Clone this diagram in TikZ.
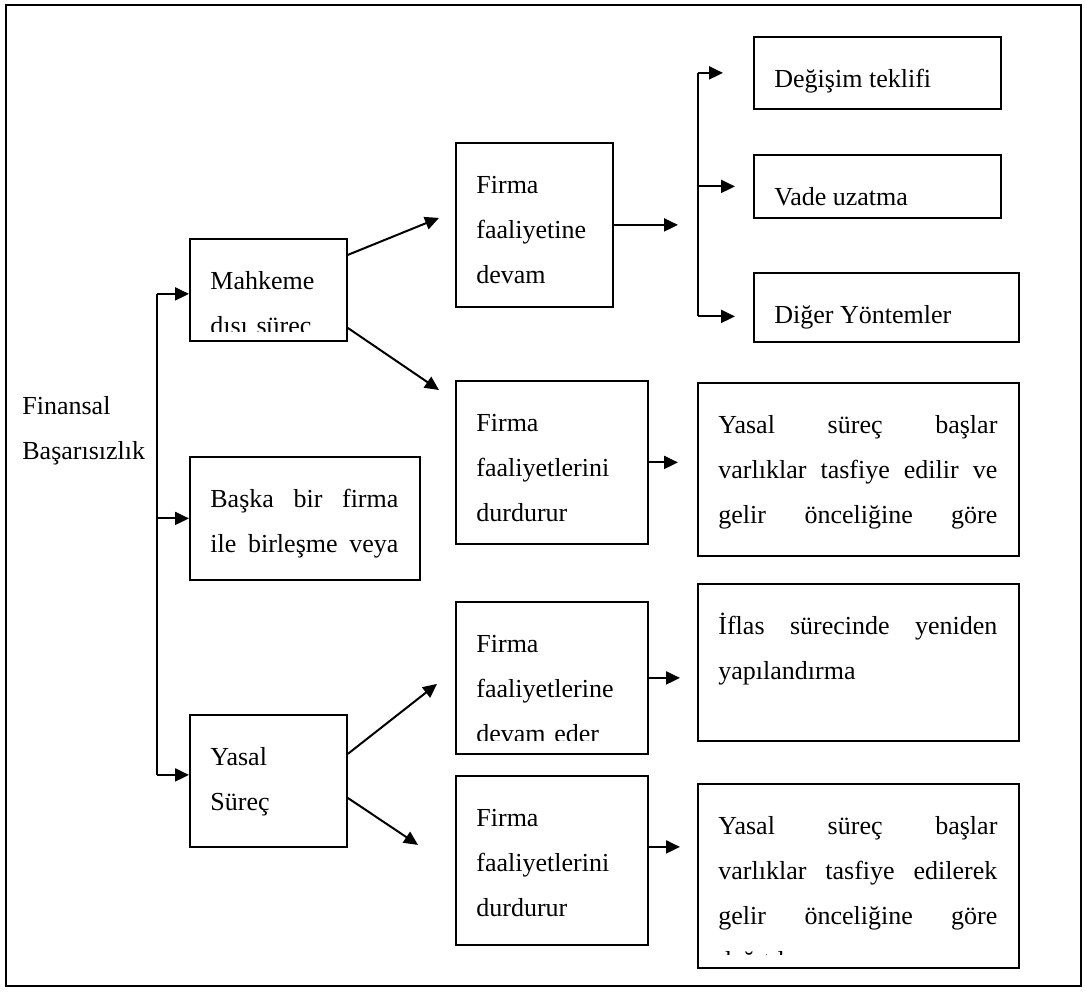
\documentclass[tikz,border=0pt]{standalone}
\usepackage{fontspec}
\setmainfont{Liberation Serif}
\usetikzlibrary{arrows.meta, positioning}

\begin{document}
\begin{tikzpicture}[x=0.5pt, y=-0.5pt]
        \tikzstyle{box} = [rectangle, draw=black, line width=0.9pt, anchor=north west, inner sep=0pt];
        \tikzstyle{boxtext} = [anchor=north west, inner sep=0pt, align=left, font=\fontsize{13pt}{22.5pt}\selectfont];
        \tikzstyle{arr} = [line width=1pt, -{Triangle[length=7pt, width=6.5pt]}];

        \useasboundingbox (0,0) rectangle (1085,992);
        \draw[line width=1.2pt] (6,5) rectangle (1081,986);

        \node[boxtext] (finansal) at (22,383) {\strut Finansal\\Başarısızlık};

        \node[box, minimum width=78.5pt, minimum height=51pt] (mahkeme) at (189,238) {};
        \node[box, minimum width=115pt, minimum height=61.5pt] (baska) at (189,456) {};
        \node[box, minimum width=78.5pt, minimum height=66pt] (yasal) at (189,714) {};

        \node[box, minimum width=78.5pt, minimum height=82pt] (devam) at (455,142) {};
        \node[box, minimum width=96pt, minimum height=81.5pt] (durdur) at (455,380) {};
        \node[box, minimum width=96pt, minimum height=76pt] (devameder) at (455,601) {};
        \node[box, minimum width=96pt, minimum height=84.5pt] (durdurtwo) at (455,775) {};

        \node[box, minimum width=123.5pt, minimum height=36pt] (degisim) at (753,36) {};
        \node[box, minimum width=123.5pt, minimum height=31.5pt] (vade) at (753,154) {};
        \node[box, minimum width=132.5pt, minimum height=34.5pt] (diger) at (753,272) {};
        \node[box, minimum width=160.5pt, minimum height=86.5pt] (tasfiye) at (697,382) {};
        \node[box, minimum width=160.5pt, minimum height=78.5pt] (iflas) at (697,583) {};
        \node[box, minimum width=160.5pt, minimum height=92pt] (tasfiyetwo) at (697,783) {};

        \begin{scope}
            \clip (mahkeme.north west) rectangle ([yshift=5pt]mahkeme.south east);
            \node[boxtext, text width=57.5pt] (mahkemetext) at ([xshift=10.5pt, yshift=-10pt]mahkeme.north west) {\strut Mahkeme\\dışı süreç};
        \end{scope}
        \begin{scope}
            \clip (baska.north west) rectangle ([yshift=5pt]baska.south east);
            \node[boxtext, text width=94pt] (baskatext) at ([xshift=10.5pt, yshift=-10pt]baska.north west) {\strut Başka\hfill bir\hfill firma\\ile\hfill birleşme\hfill veya};
        \end{scope}
        \node[boxtext, text width=57.5pt] (yasaltext) at ([xshift=10.5pt, yshift=-10pt]yasal.north west) {\strut Yasal\\Süreç};

        \node[boxtext, text width=57.5pt] (devamtext) at ([xshift=10.5pt, yshift=-10pt]devam.north west) {\strut Firma\\faaliyetine\\devam};
        \node[boxtext, text width=75pt] (durdurtext) at ([xshift=10.5pt, yshift=-10pt]durdur.north west) {\strut Firma\\faaliyetlerini\\durdurur};
        \begin{scope}
            \clip (devameder.north west) rectangle ([yshift=7pt]devameder.south east);
            \node[boxtext, text width=75pt] (devamedertext) at ([xshift=10.5pt, yshift=-10pt]devameder.north west) {\strut Firma\\faaliyetlerine\\devam eder};
        \end{scope}
        \node[boxtext, text width=75pt] (durdurtwotext) at ([xshift=10.5pt, yshift=-10pt]durdurtwo.north west) {\strut Firma\\faaliyetlerini\\durdurur};

        \node[boxtext] (degisimtext) at ([xshift=10.5pt, yshift=-10pt]degisim.north west) {\strut Değişim teklifi};
        \node[boxtext] (vadetext) at ([xshift=10.5pt, yshift=-10pt]vade.north west) {\strut Vade uzatma};
        \node[boxtext] (digertext) at ([xshift=10.5pt, yshift=-10pt]diger.north west) {\strut Diğer Yöntemler};
        \node[boxtext, text width=139.5pt] (tasfiyetext) at ([xshift=10.5pt, yshift=-10pt]tasfiye.north west) {\strut Yasal\hfill süreç\hfill başlar\\varlıklar\hfill tasfiye\hfill edilir\hfill ve\\gelir\hfill önceliğine\hfill göre};
        \node[boxtext, text width=139.5pt] (iflastext) at ([xshift=10.5pt, yshift=-10pt]iflas.north west) {\strut İflas\hfill sürecinde\hfill yeniden\\yapılandırma};
        \begin{scope}
            \clip (tasfiyetwo.north west) rectangle ([yshift=7pt]tasfiyetwo.south east);
            \node[boxtext, text width=139.5pt] (tasfiyetwotext) at ([xshift=10.5pt, yshift=-10pt]tasfiyetwo.north west) {\strut Yasal\hfill süreç\hfill başlar\\varlıklar\hfill tasfiye\hfill edilerek\\gelir\hfill önceliğine\hfill göre\\dağıtılır};
        \end{scope}

        \coordinate (trunk) at (157,293);
        \coordinate (dal) at (698,73);
        \coordinate (mahkemein) at ([yshift=-2pt]mahkeme.west);
        \coordinate (yasalin) at ([yshift=3pt]yasal.west);
        \coordinate (digerin) at ([yshift=-4.5pt]diger.west);

        \draw[line width=1pt] (trunk |- mahkemein) -- (trunk |- yasalin);
        \draw[arr] (trunk |- mahkemein) -- (mahkemein);
        \draw[arr] (trunk |- baska.west) -- (baska.west);
        \draw[arr] (trunk |- yasalin) -- (yasalin);

        \draw[arr] ([yshift=17.5pt]mahkeme.east) -- ([xshift=-8pt, yshift=3.5pt]devam.west);
        \draw[arr] ([yshift=-19pt]mahkeme.east) -- ([xshift=-8pt, yshift=-5pt]durdur.north west);
        \draw[arr] ([yshift=13.5pt]yasal.east) -- ([xshift=-9pt, yshift=-3pt]devameder.west);
        \draw[arr] ([yshift=-8.5pt]yasal.east) -- ([xshift=-18.5pt, yshift=7.75pt]durdurtwo.west);

        \draw[arr] (devam.east) -- ([xshift=-10pt]dal |- devam.east);
        \draw[line width=1pt] (dal |- degisim.west) -- (dal |- digerin);
        \draw[arr] (dal |- degisim.west) -- ([xshift=-15pt]degisim.west);
        \draw[arr] (dal |- vade.west) -- ([xshift=-9pt]vade.west);
        \draw[arr] (dal |- digerin) -- ([xshift=-9pt]digerin);

        \draw[arr] (durdur.east) -- ([xshift=-9.5pt]tasfiye.west |- durdur.east);
        \draw[arr] (devameder.east) -- ([xshift=-8.5pt]iflas.west |- devameder.east);
        \draw[arr] ([yshift=6.75pt]durdurtwo.east) -- ([xshift=-8.5pt, yshift=6.75pt]tasfiyetwo.west |- durdurtwo.east);

    \end{tikzpicture}
\end{document}
